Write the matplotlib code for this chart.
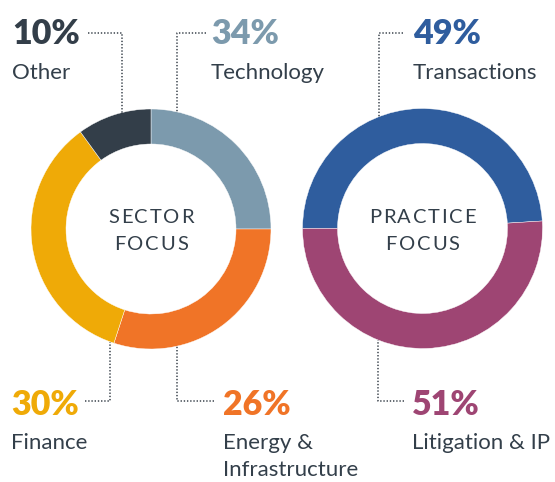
import matplotlib
matplotlib.use("Agg")
import matplotlib.pyplot as plt
from matplotlib.font_manager import FontProperties
import numpy as np

# ---------------- data ----------------
sector_names = ["Technology", "Energy &\nInfrastructure", "Finance", "Other"]
sector_pct_labels = ["34%", "26%", "30%", "10%"]
# wedge sizes as drawn in the reference graphic (clockwise from 12 o'clock)
sector_shares = [25, 30, 35, 10]
sector_colors = ["#7C9AAD", "#F07427", "#EFAA07", "#333E49"]

practice_names = ["Transactions", "Litigation & IP"]
practice_pct_labels = ["49%", "51%"]
practice_shares = [49, 51]
practice_colors = ["#2F5D9E", "#9E4573"]

center_titles = [["SECTOR", "FOCUS"], ["PRACTICE", "FOCUS"]]

# ---------------- layout ----------------
W, H = 555, 482
DARK = "#333F4A"
fig = plt.figure(figsize=(W / 100, H / 100), dpi=100)
ax = fig.add_axes([0, 0, 1, 1])

def Y(py):
    return H - py

R_OUT, R_W = 120, 35
cL = (151, Y(229))
cR = (422.5, Y(228.5))

ax.pie(sector_shares, colors=sector_colors, startangle=90, counterclock=False,
       center=cL, radius=R_OUT, frame=True,
       wedgeprops=dict(width=R_W, edgecolor="white", linewidth=0.3))
ax.pie(practice_shares, colors=practice_colors, startangle=180, counterclock=False,
       center=cR, radius=R_OUT, frame=True,
       wedgeprops=dict(width=R_W, edgecolor="white", linewidth=0.3))
ax.set_xlim(0, W)
ax.set_ylim(0, H)
ax.set_aspect("auto")
ax.axis("off")

fam = ["Lato", "DejaVu Sans"]
PCT_FS = 24.5
LBL_FS = 16
CEN_FS = 14.5

# leader lines
def leader(xh, yh, xv, center, top):
    cx, cy = center
    dx = xv - cx
    dy = np.sqrt(R_OUT ** 2 - dx ** 2)
    yend = cy + dy if top else cy - dy
    ax.plot([xh, xv, xv], [Y(yh), Y(yh), yend], color="#3A434C",
            lw=1.1, linestyle=(0, (0.9, 1.2)), solid_capstyle="butt",
            dash_capstyle="butt", zorder=1)

leader(88, 33, 122, cL, True)      # Other
leader(206, 33, 177, cL, True)     # Technology
leader(403, 33, 379, cR, True)     # Transactions
leader(85, 401, 110, cL, False)    # Finance
leader(214, 401, 177, cL, False)   # Energy
leader(404, 401, 378, cR, False)   # Litigation

def block(x, y_pct, y_lbl, pct, name, color):
    ax.text(x, Y(y_pct), pct, fontsize=PCT_FS, fontweight="heavy", family=fam,
            color=color, ha="left", va="baseline")
    lines = name.split("\n")
    for i, ln in enumerate(lines):
        ax.text(x, Y(y_lbl + 27.5 * i), ln, fontsize=LBL_FS, family=fam,
                color=DARK, ha="left", va="baseline")

# sector blocks
block(211, 44, 79, sector_pct_labels[0], sector_names[0], sector_colors[0])
block(223, 415, 449, sector_pct_labels[1], sector_names[1], sector_colors[1])
block(11, 415, 449, sector_pct_labels[2], sector_names[2], sector_colors[2])
block(12, 44, 79, sector_pct_labels[3], sector_names[3], sector_colors[3])
# practice blocks
block(413, 44, 79, practice_pct_labels[0], practice_names[0], practice_colors[0])
block(412, 415, 449, practice_pct_labels[1], practice_names[1], practice_colors[1])

# centre titles with letter spacing
renderer = fig.canvas.get_renderer()
fp = FontProperties(family=fam, size=CEN_FS)

def spaced(text, cx, py, spacing=1.8):
    ws = [renderer.get_text_width_height_descent(text[:i], fp, ismath=False)[0]
          if i > 0 else 0.0 for i in range(len(text) + 1)]
    total = ws[-1] + spacing * (len(text) - 1)
    x0 = cx - total / 2
    for i, ch in enumerate(text):
        ax.text(x0 + ws[i] + spacing * i, Y(py), ch, fontproperties=fp,
                color=DARK, ha="left", va="baseline")

for (cx, _), title in zip([cL, cR], center_titles):
    spaced(title[0], cx, 223)
    spaced(title[1], cx, 250)

fig.savefig("out.png", dpi=100, facecolor="white")
